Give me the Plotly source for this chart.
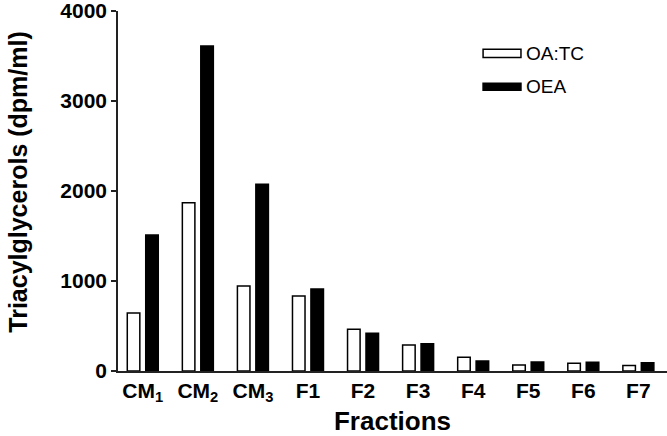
import plotly.graph_objects as go

categories = ["CM1", "CM2", "CM3", "F1", "F2", "F3", "F4", "F5", "F6", "F7"]
tick_labels = ["CM<sub>1</sub>", "CM<sub>2</sub>", "CM<sub>3</sub>", "F1", "F2", "F3", "F4", "F5", "F6", "F7"]
oa_tc = [645, 1870, 945, 833, 463, 290, 152, 67, 85, 60]
oea = [1510, 3610, 2075, 911, 419, 302, 111, 100, 96, 93]
y_ticks = [0, 1000, 2000, 3000, 4000]

FONT = "Arial, Liberation Sans, Helvetica, sans-serif"

fig = go.Figure()
fig.add_trace(go.Bar(x=categories, y=oa_tc, name="OA:TC",
                     marker=dict(color="white", line=dict(color="black", width=1.5)),
                     showlegend=False))
fig.add_trace(go.Bar(x=categories, y=oea, name="OEA",
                     marker=dict(color="black", line=dict(color="black", width=1.5)),
                     showlegend=False))

fig.update_layout(
    width=667, height=436,
    margin=dict(l=118, r=0, t=11, b=65),
    paper_bgcolor="white", plot_bgcolor="white",
    barmode="group", bargap=0.33, bargroupgap=0.32,
    font=dict(family=FONT, color="black"),
)
fig.update_xaxes(
    automargin=False,
    range=[-0.45, 9.52],
    tickmode="array", tickvals=categories, ticktext=[f"<b>{t}</b>" for t in tick_labels],
    tickfont=dict(size=21, family=FONT, color="black"),
    ticklabeloverflow="allow",
    showline=True, linecolor="#222", linewidth=1.5,
    ticks="", showgrid=False, zeroline=False,
    title=dict(text="<b>Fractions</b>", font=dict(size=26, color="black"), standoff=8),
)
fig.update_yaxes(
    automargin=False,
    range=[0, 4000],
    tickmode="array", tickvals=y_ticks, ticktext=[f"<b>{v}</b>" for v in y_ticks],
    tickfont=dict(size=21, color="black"),
    ticklabeloverflow="allow",
    showline=True, linecolor="#222", linewidth=1.5,
    ticks="outside", ticklen=5, tickwidth=1.5, tickcolor="#222",
    showgrid=False, zeroline=False,
)

# Y-axis title as annotation (positioned slightly above plot centre, as in the original)
fig.add_annotation(xref="paper", yref="paper", x=-0.182, y=0.526,
                   text="<b>Triacylglycerols (dpm/ml)</b>", textangle=-90,
                   showarrow=False, xanchor="center", yanchor="middle",
                   font=dict(size=25, color="black", family=FONT))

# Legend drawn as swatches + labels
legend_items = [("OA:TC", "white", 0.894, 0.871, 0.883), ("OEA", "black", 0.799, 0.780, 0.789)]
for label, fill, y0, y1, yt in legend_items:
    fig.add_shape(type="rect", xref="paper", yref="paper",
                  x0=0.665, x1=0.734, y0=y1, y1=y0,
                  fillcolor=fill, line=dict(color="black", width=1.5))
    fig.add_annotation(xref="paper", yref="paper", x=0.739, y=yt, text=label,
                       showarrow=False, xanchor="left", yanchor="middle",
                       font=dict(size=19, color="black", family=FONT))

fig.write_html("out.html", config={"displayModeBar": False},
               post_script="document.body.style.margin='0px';")
